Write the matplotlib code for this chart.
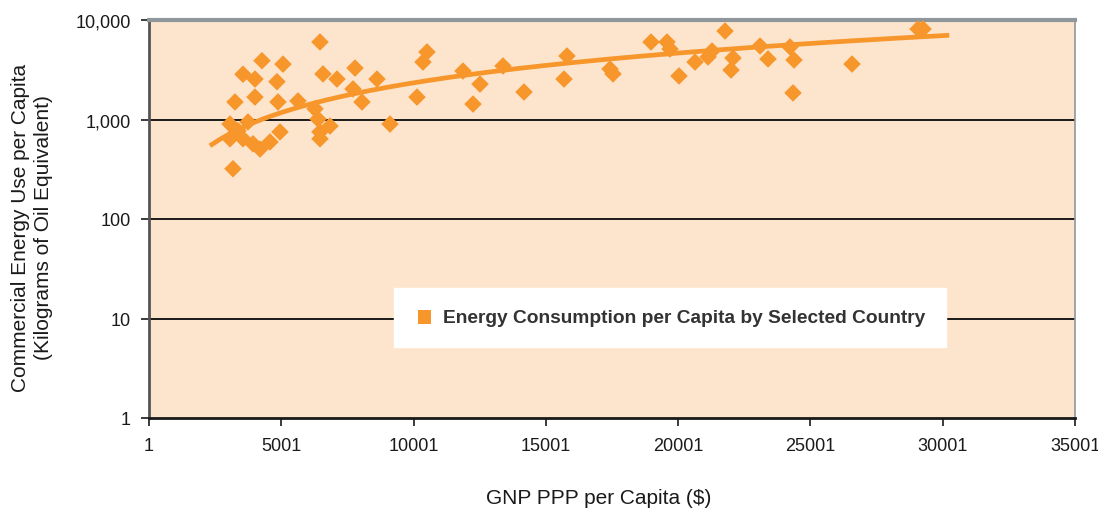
import matplotlib

matplotlib.use("Agg")
import matplotlib.pyplot as plt
import numpy as np
from matplotlib.ticker import FixedLocator, FixedFormatter

# GNP PPP per capita ($) and energy use per capita (kgoe)
gnp = [
    3175, 3251, 3553, 4007, 4271, 5065, 4838, 4007, 4876, 5632,
    6464, 6577, 7106, 7787, 8618, 7711, 8051, 3062, 3364, 3742,
    3931, 4196, 4574, 4952, 3553, 3062, 6275, 6389, 6464, 6464,
    6842, 9110, 10130, 10357, 10508, 11869, 12512, 12247, 13381, 14175,
    15687, 15800, 17426, 17539, 18976, 19580, 19694, 20034, 20639, 21130,
    21281, 21773, 22075, 22000, 23096, 23398, 24230, 24381, 24343, 26573,
    29068, 29257,
]
energy = [
    320, 1500, 2850, 2550, 3900, 3600, 2400, 1680, 1500, 1535,
    6010, 2870, 2550, 3290, 2550, 2030, 1500, 900, 770, 945,
    570, 505, 595, 750, 640, 640, 1280, 1010, 750, 640,
    860, 900, 1680, 3780, 4770, 3070, 2270, 1430, 3450, 1890,
    2550, 4350, 3220, 2870, 6010, 6010, 5110, 2740, 3780, 4250,
    4880, 7750, 4150, 3140, 5480, 4060, 5360, 3960, 1850, 3610,
    8120, 8120,
]
# power trendline y = a * x^b as drawn in the chart
trend_range = [2380, 30160]
trend_a = 0.247
trend_b = 0.994

y_ticks = [1, 10, 100, 1000, 10000]
y_labels = ["1", "10", "100", "1,000", "10,000"]
x_ticks = [1, 5001, 10001, 15001, 20001, 25001, 30001, 35001]

orange = "#f7962b"
bg = "#fde5cd"

plt.rcParams["font.family"] = ["Liberation Sans", "DejaVu Sans"]

fig = plt.figure(figsize=(10.98, 5.10), dpi=100)
ax = fig.add_axes([149 / 1098, 1 - 419 / 510, 926 / 1098, 398 / 510])
ax.set_facecolor(bg)

ax.set_yscale("log")
ax.set_ylim(1, 10000)
ax.set_xlim(1, 35001)

for v in y_ticks[1:-1]:
    ax.axhline(v, color="#1a1a1a", lw=1.4, zorder=1)

xt = np.linspace(trend_range[0], trend_range[1], 200)
ax.plot(xt, trend_a * xt ** trend_b, color=orange, lw=3.4, zorder=3)

ax.scatter(gnp, energy, marker="D", s=80, color=orange, edgecolors="none", zorder=4)

leg_handle = ax.scatter([], [], marker="s", s=95, color=orange, edgecolors="none",
                        label="Energy Consumption per Capita by Selected Country")
leg = ax.legend(handles=[leg_handle], loc="center",
                bbox_to_anchor=(0.258, 0.176, 0.609, 0.153),
                frameon=True, fancybox=False, framealpha=1, edgecolor="white",
                facecolor="white", handletextpad=0.45, handlelength=1.0,
                borderpad=1.1, prop={"size": 13.8, "weight": "bold"})
for t in leg.get_texts():
    t.set_color("#333333")
leg.set_zorder(5)

ax.yaxis.set_major_locator(FixedLocator(y_ticks))
ax.yaxis.set_major_formatter(FixedFormatter(y_labels))
ax.yaxis.set_minor_locator(FixedLocator([]))
ax.set_xticks(x_ticks)
ax.set_xticklabels([str(v) for v in x_ticks])
ax.tick_params(axis="both", labelsize=13, colors="#1a1a1a", length=6, width=1.2)
ax.tick_params(axis="x", pad=8)
ax.tick_params(axis="y", pad=7)

ax.spines["left"].set_color("#555555")
ax.spines["left"].set_linewidth(2)
ax.spines["bottom"].set_color("#1a1a1a")
ax.spines["bottom"].set_linewidth(2)
ax.spines["top"].set_color("#8f969c")
ax.spines["top"].set_linewidth(3)
ax.spines["right"].set_color("#8f969c")
ax.spines["right"].set_linewidth(1.2)

fig.text(32 / 1098, 1 - 228 / 510,
         "Commercial Energy Use per Capita\n(Kilograms of Oil Equivalent)",
         rotation=90, ha="center", va="center", fontsize=15, color="#1a1a1a",
         linespacing=1.3)
fig.text(599 / 1098, 1 - 499 / 510, "GNP PPP per Capita ($)",
         ha="center", va="center", fontsize=15, color="#1a1a1a")

fig.savefig("out.png", dpi=100, facecolor="white")
